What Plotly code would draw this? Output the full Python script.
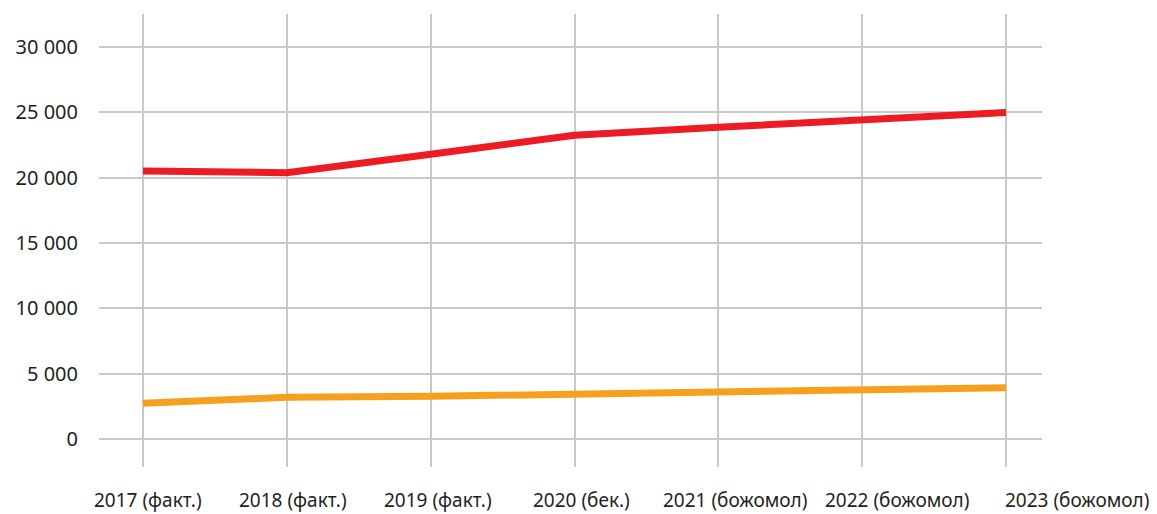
import plotly.graph_objs as go

years = ['2017 (факт.)', '2018 (факт.)', '2019 (факт.)', '2020 (бек.)',
         '2021 (божомол)', '2022 (божомол)', '2023 (божомол)']
red_vals = [20520, 20390, 21800, 23250, 23870, 24430, 24990]
orange_vals = [2730, 3190, 3270, 3410, 3600, 3780, 3930]
ytick_vals = [0, 5000, 10000, 15000, 20000, 25000, 30000]
ytick_text = ['0', '5 000', '10 000', '15 000', '20 000', '25 000', '30 000']

# label offsets as in the original (the later ones drift right)
label_shift = [5, 6, 7, 7, 17, 35, 71]

fnt = 'Noto Sans'
txtcol = '#231f20'
gridcol = '#c9c9c9'

fig = go.Figure()
fig.add_trace(go.Scatter(x=years, y=orange_vals, mode='lines',
                         line=dict(color='#f7a01f', width=7),
                         showlegend=False, hoverinfo='skip'))
fig.add_trace(go.Scatter(x=years, y=red_vals, mode='lines',
                         line=dict(color='#ed1c24', width=7),
                         showlegend=False, hoverinfo='skip'))

for yr, sh in zip(years, label_shift):
    fig.add_annotation(x=yr, y=0, xref='x', yref='paper', text=yr,
                       showarrow=False, xanchor='center', yanchor='middle',
                       xshift=sh, yshift=-33,
                       font=dict(family=fnt, size=19, color=txtcol))

# page body has an 8px margin, so the figure is 8px smaller and offset
fig.update_layout(
    width=1149, height=506,
    margin=dict(l=91, r=115, t=6, b=47),
    paper_bgcolor='white', plot_bgcolor='white',
    font=dict(family=fnt, size=19, color=txtcol),
    xaxis=dict(
        type='category',
        range=[-0.306, 6.25],
        showgrid=True, gridcolor=gridcol, gridwidth=1.5,
        showticklabels=False, zeroline=False, showline=False, ticks=''),
    yaxis=dict(
        range=[-2144, 32540],
        tickmode='array', tickvals=ytick_vals, ticktext=ytick_text,
        showgrid=True, gridcolor=gridcol, gridwidth=1.5,
        zeroline=False, showline=False, ticks='',
        ticklabelstandoff=20,
        tickfont=dict(family=fnt, size=20, color=txtcol)),
)

fig.write_html("out.html")
